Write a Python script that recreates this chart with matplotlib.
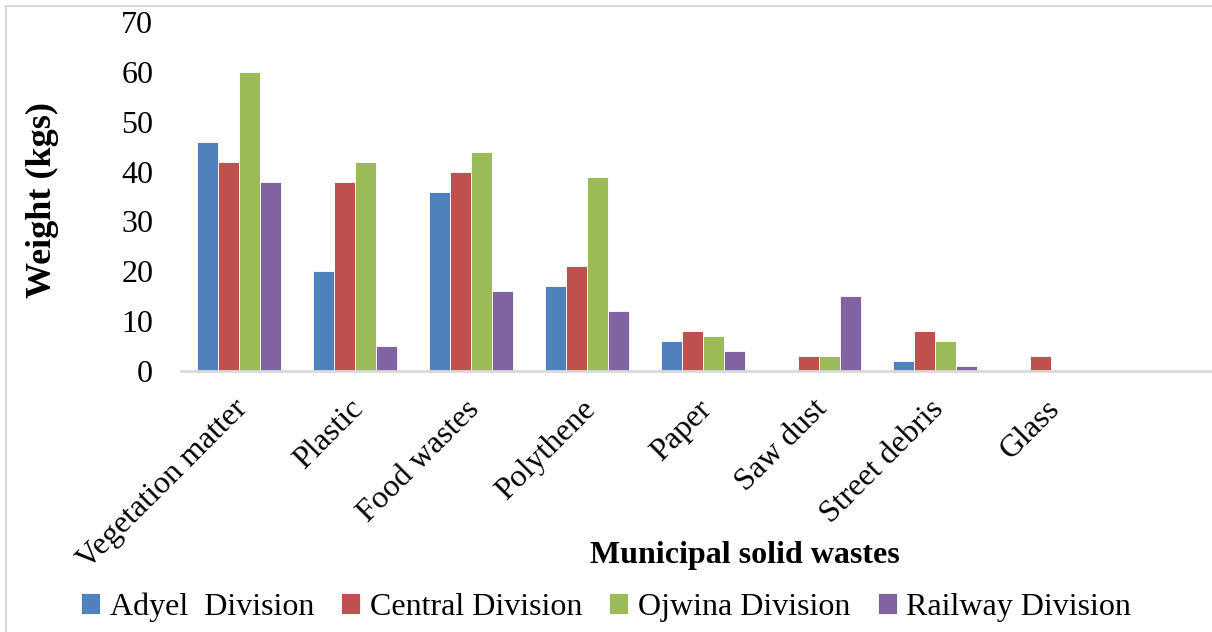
import numpy as np
import matplotlib
matplotlib.use('Agg')
import matplotlib.pyplot as plt
import matplotlib.transforms as mtransforms
from matplotlib.patches import Rectangle

categories = ["Vegetation matter", "Plastic", "Food wastes", "Polythene",
              "Paper", "Saw dust", "Street debris", "Glass"]
series = ["Adyel  Division", "Central Division", "Ojwina Division", "Railway Division"]
adyel = [46, 20, 36, 17, 6, 0, 2, 0]
central = [42, 38, 40, 21, 8, 3, 8, 3]
ojwina = [60, 42, 44, 39, 7, 3, 6, 0]
railway = [38, 5, 16, 12, 4, 15, 1, 0]
colors = ['#4F81BD', '#C0504D', '#9BBB59', '#8064A2']

plt.rcParams['font.family'] = ['Liberation Serif', 'DejaVu Serif']

W, H = 1212, 632
fig = plt.figure(figsize=(W / 100, H / 100), dpi=100)
ax = fig.add_axes([181 / W, 1 - 371 / H, 1 - 181 / W, (371 - 22) / H])

x = np.arange(len(categories))
width = 0.18
data = [adyel, central, ojwina, railway]
for i, (vals, name, c) in enumerate(zip(data, series, colors)):
    ax.bar(x + (i - 1.5) * width, vals, width, color=c, label=name,
           edgecolor='white', linewidth=0.6)

ax.set_xlim(-0.5, (W - 181) / 116 - 0.5)
ax.set_ylim(0, 70)
ax.set_yticks(range(0, 71, 10))
ax.tick_params(axis='y', length=0, labelsize=23, pad=20)
ax.tick_params(axis='x', length=0, labelsize=23, pad=17)
ax.set_xticks(x)
ax.set_xticklabels(categories, rotation=45, ha='right', va='top',
                   rotation_mode='anchor')
# nudge category labels a little to the left
shift = mtransforms.ScaledTranslation(-6 / 100, 0, fig.dpi_scale_trans)
for lbl in ax.get_xticklabels():
    lbl.set_transform(lbl.get_transform() + shift)

for s in ['top', 'right', 'left']:
    ax.spines[s].set_visible(False)
ax.spines['bottom'].set_color('#d9d9d9')
ax.spines['bottom'].set_linewidth(2)

fig.text(745 / W, 1 - 556 / H, "Municipal solid wastes", fontsize=23,
         fontweight='bold', ha='center', va='center')
fig.text(42 / W, 1 - 200 / H, "Weight (kgs)", fontsize=26,
         fontweight='bold', ha='center', va='center', rotation=90)

fig.legend(loc='center', bbox_to_anchor=(0.5, 1 - 607 / H), ncol=4,
           frameon=False, fontsize=23, handlelength=0.6, handleheight=0.6,
           handletextpad=0.3, columnspacing=0.85, borderaxespad=0)

fig.patches.append(Rectangle((6 / W, -0.1), 1.5, 1.1 - 6 / H,
                             transform=fig.transFigure, fill=False,
                             edgecolor='#d9d9d9', linewidth=1.5))

fig.savefig('out.png', dpi=100)
